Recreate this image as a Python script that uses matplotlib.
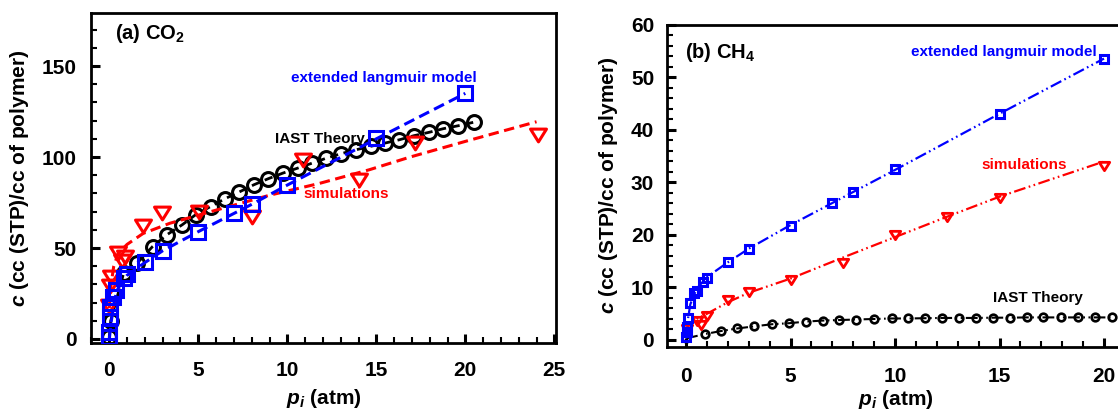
import matplotlib
matplotlib.use('Agg')
import matplotlib.pyplot as plt
from matplotlib.ticker import MultipleLocator
from matplotlib.path import Path

plt.rcParams['font.family'] = ['Liberation Sans', 'DejaVu Sans']
plt.rcParams['font.weight'] = 'bold'
plt.rcParams['mathtext.fontset'] = 'custom'
plt.rcParams['mathtext.rm'] = 'Liberation Sans:bold'
plt.rcParams['mathtext.it'] = 'Liberation Sans:italic:bold'
plt.rcParams['mathtext.bf'] = 'Liberation Sans:bold'
plt.rcParams['lines.scale_dashes'] = False

# ---------------- (a) CO2 ----------------
co2_iast_p = [0.0, 0.08, 0.8, 1.57, 2.43, 3.22, 4.1, 4.85, 5.69, 6.5, 7.28, 8.13, 8.93, 9.76,
              10.58, 11.41, 12.2, 13.0, 13.86, 14.69, 15.5, 16.3, 17.1, 17.97, 18.77, 19.6, 20.46]
co2_iast_c = [1, 10, 36, 41.7, 50.8, 57.2, 62.8, 68.3, 72.8, 77.1, 80.7, 84.8, 88.1, 91.2,
              93.9, 96.7, 99.4, 101.8, 104.0, 105.9, 107.7, 109.5, 111.7, 113.6, 115.6, 117.2, 119.1]

co2_sim_p = [0.01, 0.05, 0.1, 0.5, 0.7, 0.9, 1.9, 2.95, 5.05, 8.0, 10.9, 14.0, 17.2, 24.1]
co2_sim_c = [18, 29, 34, 47, 43, 45, 62, 69, 70, 67.2, 98.4, 87.4, 107.5, 112]
co2_simfit_p = [0.0, 0.1, 0.25, 0.5, 1.0, 1.9, 3.4, 5.7, 9.0, 11.8, 14.6, 16.9, 20.0, 24.0]
co2_simfit_c = [17, 30, 40, 47, 52, 58, 63.6, 70, 79, 85.5, 93, 100, 108.6, 119.4]

co2_lang_p = [0.005, 0.01, 0.02, 0.05, 0.2, 0.4, 0.8, 1.0, 2, 3, 5, 7, 8, 10, 15, 20]
co2_lang_c = [1, 4, 12, 17.7, 23.2, 26.9, 33.3, 35.5, 42.1, 48.4, 59, 69, 74.2, 84.6, 110.3, 135]
co2_langfit_p = [0.0, 0.1, 0.3, 0.5, 1.0, 2, 3, 5, 7, 8, 10, 15, 20]
co2_langfit_c = [0, 9, 22, 28, 35, 42, 48.5, 59, 69, 74, 84.6, 110, 135]

# ---------------- (b) CH4 ----------------
ch4_iast_p = [0.0, 0.91, 1.66, 2.45, 3.27, 4.1, 4.93, 5.73, 6.54, 7.32, 8.14, 8.98, 9.84,
              10.64, 11.44, 12.24, 13.06, 13.88, 14.7, 15.5, 16.3, 17.1, 17.94, 18.76, 19.56, 20.37]
ch4_iast_c = [0.3, 1.14, 1.7, 2.2, 2.6, 3.0, 3.2, 3.5, 3.7, 3.8, 3.9, 4.0, 4.1,
              4.1, 4.15, 4.2, 4.2, 4.2, 4.25, 4.25, 4.3, 4.3, 4.3, 4.3, 4.3, 4.3]

ch4_sim_p = [0.05, 0.5, 0.7, 1.0, 2, 3, 5, 7.5, 10, 12.5, 15, 20]
ch4_sim_c = [2.0, 3.6, 2.9, 4.6, 7.6, 9.2, 11.4, 14.7, 20, 23.4, 27, 33.2]
ch4_simfit_p = [0.0, 0.2, 0.5, 1.0, 2, 3, 5, 7.5, 10, 12.5, 15, 20]
ch4_simfit_c = [2.0, 3.3, 4.0, 5.0, 7.2, 9.0, 11.7, 15.7, 19.6, 23.5, 27.3, 34.0]

ch4_lang_p = [0.01, 0.03, 0.05, 0.1, 0.2, 0.4, 0.5, 0.8, 1, 2, 3, 5, 7, 8, 10, 15, 20]
ch4_lang_c = [0.6, 1.5, 2.5, 4.1, 7.0, 8.9, 9.4, 11.0, 11.9, 14.8, 17.3, 21.7, 26, 28.1, 32.5, 43, 53.5]
ch4_langfit_p = [0.0, 0.05, 0.1, 0.2, 0.4, 0.6, 1, 2, 3, 5, 7, 8, 10, 15, 20]
ch4_langfit_c = [0.3, 2.5, 4.3, 6.8, 8.8, 10.2, 12, 14.8, 17.4, 21.9, 26.1, 28.2, 32.4, 43.1, 53.6]

RED = '#ff0000'
BLUE = '#0000ff'
TRI = Path([(-1, 0.8), (1, 0.8), (0, -0.8), (-1, 0.8)],
           [Path.MOVETO, Path.LINETO, Path.LINETO, Path.CLOSEPOLY])

W, H = 1118, 412
fig = plt.figure(figsize=(W / 100, H / 100), dpi=100)


def px_axes(l, r, t, b):
    return [l / W, 1 - b / H, (r - l) / W, (b - t) / H]


ax1 = fig.add_axes(px_axes(90.6, 556.1, 13.3, 343))
ax2 = fig.add_axes(px_axes(666.7, 1124.9, 25, 346.5))

# ---- panel (a)
ax1.plot(co2_iast_p, co2_iast_c, color='black', lw=2, linestyle=(0, (6, 4)),
         marker='o', ms=10, mew=2.2, mfc='none', mec='black', zorder=3)
ax1.plot(co2_simfit_p, co2_simfit_c, color=RED, lw=2.2, linestyle=(0, (7.5, 4)), zorder=4)
ax1.plot(co2_sim_p, co2_sim_c, linestyle='none', marker=TRI, ms=11.5, mew=2.2,
         mfc='none', mec=RED, zorder=5)
ax1.plot(co2_langfit_p, co2_langfit_c, color=BLUE, lw=2.2, linestyle=(0, (8, 4)), zorder=6)
ax1.plot(co2_lang_p, co2_lang_c, linestyle='none', marker='s', ms=9.5, mew=2.2,
         mfc='none', mec=BLUE, zorder=7)

ax1.set_xlim(-1.05, 25.1)
ax1.set_ylim(-2.2, 179)
ax1.xaxis.set_major_locator(MultipleLocator(5))
ax1.xaxis.set_minor_locator(MultipleLocator(1))
ax1.yaxis.set_major_locator(MultipleLocator(50))
ax1.yaxis.set_minor_locator(MultipleLocator(10))

ax1.text(0.32, 164.8, r'(a) CO$_{\mathrm{2}}$', fontsize=14.5, fontweight='bold', va='baseline')
ax1.text(10.19, 141.4, 'extended langmuir model', color=BLUE, fontsize=11, fontweight='bold', va='baseline')
ax1.text(9.31, 107.5, 'IAST Theory', color='black', fontsize=11, fontweight='bold', va='baseline')
ax1.text(10.9, 77.3, 'simulations', color=RED, fontsize=11, fontweight='bold', va='baseline')

# ---- panel (b)
dd = (0, (8.5, 2.5, 1.2, 2.5, 1.2, 2.5))
ax2.plot(ch4_iast_p, ch4_iast_c, color='black', lw=1.5, linestyle=dd,
         marker='o', ms=5.5, mew=1.9, mfc='none', mec='black', zorder=3)
ax2.plot(ch4_simfit_p, ch4_simfit_c, color=RED, lw=1.6, linestyle=dd, zorder=4)
ax2.plot(ch4_sim_p, ch4_sim_c, linestyle='none', marker=TRI, ms=7.5, mew=2,
         mfc='none', mec=RED, zorder=5)
ax2.plot(ch4_langfit_p, ch4_langfit_c, color=BLUE, lw=1.6, linestyle=dd, zorder=6)
ax2.plot(ch4_lang_p, ch4_lang_c, linestyle='none', marker='s', ms=5.5, mew=2.2,
         mfc='none', mec=BLUE, zorder=7)

ax2.set_xlim(-0.93, 21)
ax2.set_ylim(-1.24, 60)
ax2.xaxis.set_major_locator(MultipleLocator(5))
ax2.xaxis.set_minor_locator(MultipleLocator(1))
ax2.yaxis.set_major_locator(MultipleLocator(10))
ax2.yaxis.set_minor_locator(MultipleLocator(2))

ax2.text(-0.06, 53.8, r'(b) CH$_{\mathrm{4}}$', fontsize=14.5, fontweight='bold', va='baseline')
ax2.text(19.65, 54.0, 'extended langmuir model', color=BLUE, fontsize=11, fontweight='bold',
         va='baseline', ha='right')
ax2.text(18.23, 32.5, 'simulations', color=RED, fontsize=11, fontweight='bold', va='baseline', ha='right')
ax2.text(19.0, 7.18, 'IAST Theory', color='black', fontsize=11, fontweight='bold', va='baseline', ha='right')

# ---- common styling
for ax, xpad, ypad, ylx, xly in [(ax1, 13, 10, -0.152, -0.167), (ax2, 14.5, 9, -0.126, -0.166)]:
    for s in ax.spines.values():
        s.set_linewidth(2)
    ax.tick_params(which='both', direction='in', top=False, right=False)
    ax.tick_params(which='major', length=6.7, width=2.2, labelsize=15)
    ax.tick_params(which='minor', length=4, width=1.5)
    ax.tick_params(axis='x', which='major', pad=xpad)
    ax.tick_params(axis='y', which='major', pad=ypad)
    for lab in ax.get_xticklabels() + ax.get_yticklabels():
        lab.set_fontweight('bold')
    ax.set_ylabel(r'$c$ (cc (STP)/cc of polymer)', fontsize=15, fontweight='bold')
    ax.set_xlabel(r'$p_i$ (atm)', fontsize=15, fontweight='bold')
    ax.yaxis.set_label_coords(ylx, 0.5)
    ax.xaxis.set_label_coords(0.5, xly)
    ax.yaxis.label.set_va('center')
    ax.xaxis.label.set_va('center')

fig.savefig('out.png', dpi=100)
